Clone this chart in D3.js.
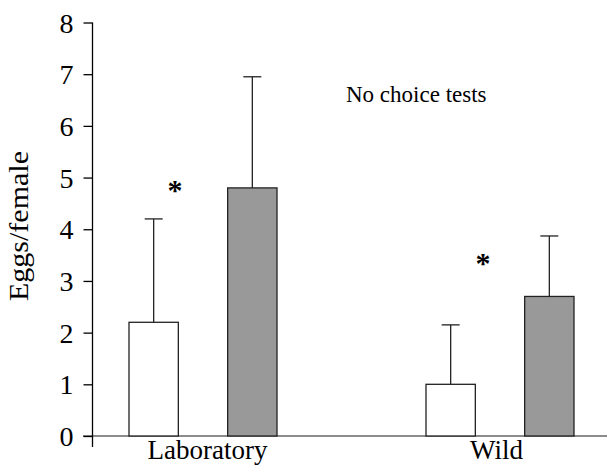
<!DOCTYPE html>
<html>
<head>
<meta charset="utf-8">
<script src="https://cdn.jsdelivr.net/npm/d3@7"></script>
<style>
  body { margin: 0; background: #fff; }
</style>
</head>
<body>
<div class="chart"></div>
<script>
// Data ------------------------------------------------------------------------------------------------------
const groups = ["Laboratory", "Wild"];
const series = ["open", "shaded"];
const meanOpen = [2.2, 1.0];
const meanShaded = [4.8, 2.7];
const errOpen = [2.0, 1.15];
const errShaded = [2.15, 1.17];
const yTicks = [0, 1, 2, 3, 4, 5, 6, 7, 8];
const starValues = [4.85, 3.45];

const rows = [];
groups.forEach((g, i) => {
  rows.push({group: g, series: "open", mean: meanOpen[i], err: errOpen[i]});
  rows.push({group: g, series: "shaded", mean: meanShaded[i], err: errShaded[i]});
});

// Dimensions ------------------------------------------------------------------------------------------------
const width = 607, height = 469;
const axisX = 92.5;
const serifFont = "Liberation Serif";

const svg = d3.select(".chart").append("svg")
  .attr("width", width)
  .attr("height", height)
  .attr("font-family", serifFont);

// Scales ----------------------------------------------------------------------------------------------------
const y = d3.scaleLinear().domain([0, 8]).range([436, 22.5]);
const x0 = d3.scalePoint().domain(groups).range([203, 500]);
const x1 = d3.scaleBand().domain(series).range([-74, 74]).paddingInner(0.5);
const fill = d3.scaleOrdinal().domain(series).range(["#fff", "#999"]);

// Baseline
svg.append("line")
  .attr("x1", 83).attr("x2", width)
  .attr("y1", y(0)).attr("y2", y(0))
  .attr("stroke", "#666").attr("stroke-width", 1.3);

// Y Axis
const yAxis = svg.append("g")
  .attr("transform", `translate(${axisX},0)`)
  .call(d3.axisLeft(y).tickValues(yTicks).tickSize(9).tickPadding(10).tickSizeOuter(0))
  .attr("font-family", serifFont)
  .attr("font-size", 28);
yAxis.select(".domain").remove();
yAxis.append("line")
  .attr("x1", 0).attr("x2", 0)
  .attr("y1", y(8)).attr("y2", 447)
  .attr("stroke", "#000").attr("stroke-width", 1.3);
yAxis.selectAll(".tick line").attr("stroke", "#000").attr("stroke-width", 1.3);
yAxis.selectAll(".tick text")
  .attr("dy", "0.34em")
  .attr("fill", "#000");

// Bars
const bars = svg.append("g");
bars.selectAll("rect")
  .data(rows)
  .join("rect")
  .attr("x", d => x0(d.group) + x1(d.series))
  .attr("y", d => y(d.mean))
  .attr("width", x1.bandwidth())
  .attr("height", d => y(0) - y(d.mean))
  .attr("fill", d => fill(d.series))
  .attr("stroke", "#222")
  .attr("stroke-width", 1.3);

// Error Bars
const errs = svg.append("g").attr("stroke", "#222").attr("stroke-width", 1.3);
errs.selectAll(".err-v")
  .data(rows)
  .join("line")
  .attr("class", "err-v")
  .attr("x1", d => x0(d.group) + x1(d.series) + x1.bandwidth() / 2)
  .attr("x2", d => x0(d.group) + x1(d.series) + x1.bandwidth() / 2)
  .attr("y1", d => y(d.mean))
  .attr("y2", d => y(d.mean + d.err));
errs.selectAll(".err-cap")
  .data(rows)
  .join("line")
  .attr("class", "err-cap")
  .attr("x1", d => x0(d.group) + x1(d.series) + x1.bandwidth() / 2 - 9)
  .attr("x2", d => x0(d.group) + x1(d.series) + x1.bandwidth() / 2 + 9)
  .attr("y1", d => y(d.mean + d.err))
  .attr("y2", d => y(d.mean + d.err));

// Significance stars
const starOffset = [-28, -17];
svg.selectAll(".star")
  .data(groups)
  .join("text")
  .attr("class", "star")
  .attr("x", (d, i) => x0(d) + starOffset[i])
  .attr("y", (d, i) => y(starValues[i]) + 15)
  .attr("text-anchor", "middle")
  .attr("font-weight", "bold")
  .attr("font-size", 30)
  .text("*");

// Group labels
svg.selectAll(".group-label")
  .data(groups)
  .join("text")
  .attr("class", "group-label")
  .attr("x", (d, i) => x0(d) + (i === 0 ? 4.5 : -3.5))
  .attr("y", 459)
  .attr("text-anchor", "middle")
  .attr("font-size", 27)
  .text(d => d);

// Title
svg.append("text")
  .attr("x", 346)
  .attr("y", 102)
  .attr("font-size", 23)
  .text("No choice tests");

// Y label
svg.append("text")
  .attr("transform", "translate(28,226) rotate(-90)")
  .attr("text-anchor", "middle")
  .attr("font-size", 27)
  .attr("textLength", 150)
  .attr("lengthAdjust", "spacingAndGlyphs")
  .text("Eggs/female");
</script>
</body>
</html>
